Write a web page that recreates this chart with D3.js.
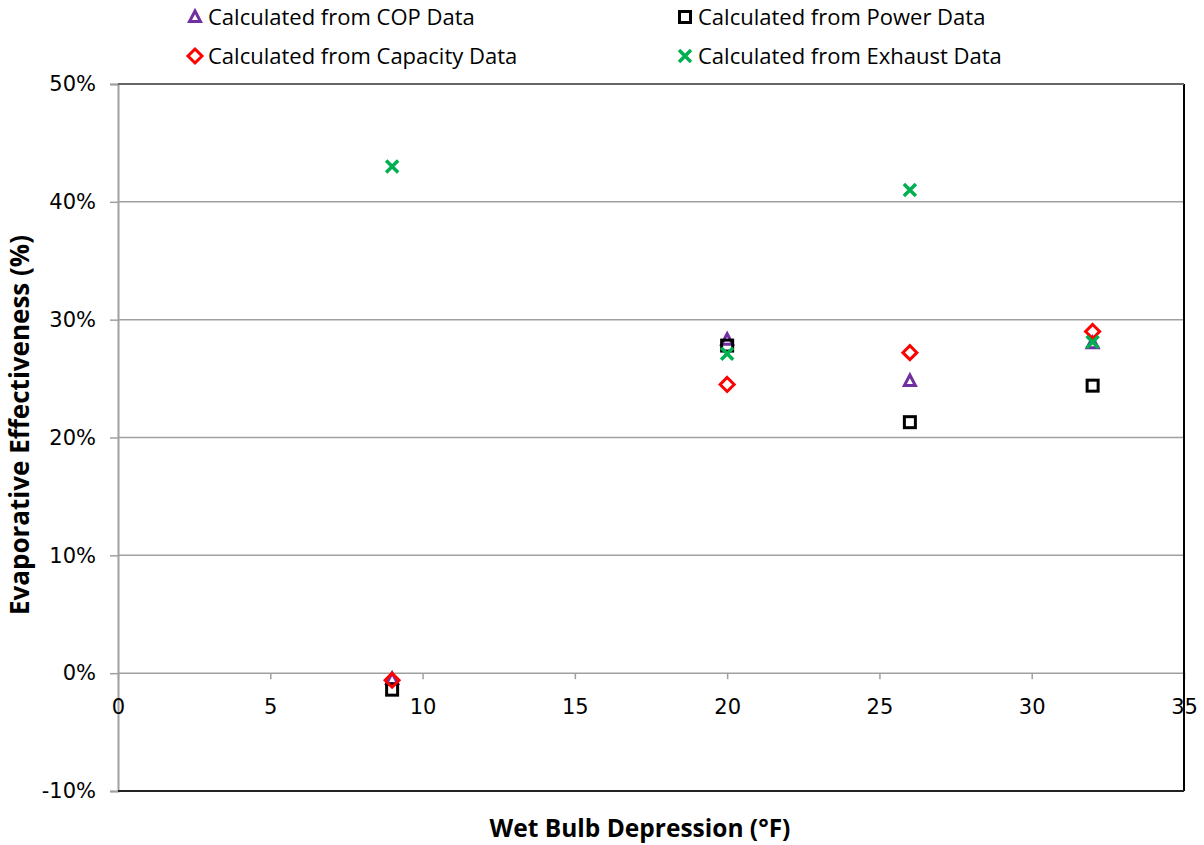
<!DOCTYPE html>
<html>
<head>
<meta charset="utf-8">
<script src="https://cdn.jsdelivr.net/npm/d3@7"></script>
<style>
  body { margin: 0; background: #fff; }
  svg { display: block; }
</style>
</head>
<body>
<svg class="chart"></svg>
<script>
// wet bulb depression (F)
var xValues = [9, 20, 26, 32];

// evaporative effectiveness, fraction
var copData = [-0.005, 0.283, 0.248, 0.280];
var powerData = [-0.014, 0.278, 0.213, 0.244];
var capacityData = [-0.006, 0.245, 0.272, 0.290];
var exhaustData = [0.430, 0.271, 0.410, 0.281];

var seriesNames = [
    "Calculated from COP Data",
    "Calculated from Power Data",
    "Calculated from Capacity Data",
    "Calculated from Exhaust Data"
];

var xTicks = [0, 5, 10, 15, 20, 25, 30, 35];
var yTicks = [-0.1, 0, 0.1, 0.2, 0.3, 0.4, 0.5];

var width = 1204, height = 845;
var margin = {top: 84, right: 20, bottom: 54, left: 118};

var svg = d3.select(".chart")
    .attr("width", width)
    .attr("height", height);

var x = d3.scaleLinear()
    .domain([0, 35])
    .range([margin.left, width - margin.right]);

var y = d3.scaleLinear()
    .domain([-0.1, 0.5])
    .range([height - margin.bottom, margin.top]);

var tickFont = "DejaVu Sans, Verdana, sans-serif";
var labelFont = "'Open Sans', sans-serif";

// horizontal gridlines + y axis
var yAxis = d3.axisLeft(y)
    .tickValues(yTicks)
    .tickSize(8)
    .tickFormat(function(d) { return Math.round(d * 100) + "%"; });

svg.append("g")
    .attr("class", "grid")
    .selectAll("line")
    .data(yTicks)
    .enter().append("line")
    .attr("x1", x(0))
    .attr("x2", x(35))
    .attr("y1", function(d) { return y(d); })
    .attr("y2", function(d) { return y(d); })
    .attr("stroke", "#a0a0a0")
    .attr("stroke-width", 1.5);

var gy = svg.append("g")
    .attr("transform", "translate(" + x(0) + ",0)")
    .call(yAxis);
gy.select(".domain").attr("stroke", "#a0a0a0").attr("stroke-width", 2);
gy.selectAll(".tick line").attr("stroke", "#a0a0a0").attr("stroke-width", 1.5);
gy.selectAll(".tick text")
    .attr("x", -22)
    .style("font-family", tickFont)
    .style("font-size", "21px")
    .attr("fill", "#000");

// x axis sits on 0%
var xAxis = d3.axisBottom(x)
    .tickValues(xTicks)
    .tickSize(6)
    .tickFormat(d3.format("d"));

var gx = svg.append("g")
    .attr("transform", "translate(0," + y(0) + ")")
    .call(xAxis);
gx.select(".domain").remove();
gx.selectAll(".tick line").attr("stroke", "#a0a0a0").attr("stroke-width", 1.5);
gx.selectAll(".tick text")
    .attr("y", 26)
    .style("font-family", tickFont)
    .style("font-size", "21px")
    .attr("fill", "#000");

// plot frame: right and bottom dark
svg.append("line")
    .attr("x1", x(35)).attr("x2", x(35))
    .attr("y1", y(0.5)).attr("y2", y(-0.1))
    .attr("stroke", "#000").attr("stroke-width", 2);
svg.append("line")
    .attr("x1", x(0)).attr("x2", x(35))
    .attr("y1", y(-0.1)).attr("y2", y(-0.1))
    .attr("stroke", "#222").attr("stroke-width", 2);
svg.append("line")
    .attr("x1", x(0)).attr("x2", x(35))
    .attr("y1", y(0.5)).attr("y2", y(0.5))
    .attr("stroke", "#666").attr("stroke-width", 2);

// markers
function drawMarker(g, type) {
    if (type === "tri") {
        g.append("path")
            .attr("d", "M0,-6L5.5,4.5L-5.5,4.5Z")
            .attr("fill", "none").attr("stroke", "#7030a0").attr("stroke-width", 3);
    } else if (type === "sq") {
        g.append("rect")
            .attr("x", -5.5).attr("y", -5.5).attr("width", 11).attr("height", 11)
            .attr("fill", "none").attr("stroke", "#000").attr("stroke-width", 3);
    } else if (type === "dia") {
        g.append("path")
            .attr("d", "M0,-7L7,0L0,7L-7,0Z")
            .attr("fill", "none").attr("stroke", "#ff0000").attr("stroke-width", 3);
    } else {
        g.append("path")
            .attr("d", "M-6,-6L6,6M-6,6L6,-6")
            .attr("fill", "none").attr("stroke", "#00b050").attr("stroke-width", 3.5);
    }
}

var series = [
    {name: seriesNames[0], values: copData, type: "tri"},
    {name: seriesNames[1], values: powerData, type: "sq"},
    {name: seriesNames[2], values: capacityData, type: "dia"},
    {name: seriesNames[3], values: exhaustData, type: "x"}
];

series.forEach(function(s) {
    var pts = svg.append("g")
        .selectAll("g")
        .data(s.values)
        .enter().append("g")
        .attr("transform", function(d, i) {
            return "translate(" + x(xValues[i]) + "," + y(d) + ")";
        });
    pts.each(function() { drawMarker(d3.select(this), s.type); });
});

// legend
var legendPos = [[195, 17], [685, 17], [195, 56], [685, 56]];
series.forEach(function(s, i) {
    var lg = svg.append("g")
        .attr("transform", "translate(" + legendPos[i][0] + "," + legendPos[i][1] + ")");
    drawMarker(lg, s.type);
    lg.append("text")
        .attr("x", 13)
        .attr("y", 8)
        .style("font-family", labelFont)
        .style("font-size", "22px")
        .text(s.name);
});

// axis titles
svg.append("text")
    .attr("x", 640)
    .attr("y", 837)
    .attr("text-anchor", "middle")
    .style("font-family", labelFont)
    .style("font-size", "24.5px")
    .style("font-weight", "bold")
    .text("Wet Bulb Depression (°F)");

svg.append("text")
    .attr("transform", "translate(29,425) rotate(-90)")
    .attr("text-anchor", "middle")
    .style("font-family", labelFont)
    .style("font-size", "26px")
    .style("font-weight", "bold")
    .text("Evaporative Effectiveness (%)");
</script>
</body>
</html>
